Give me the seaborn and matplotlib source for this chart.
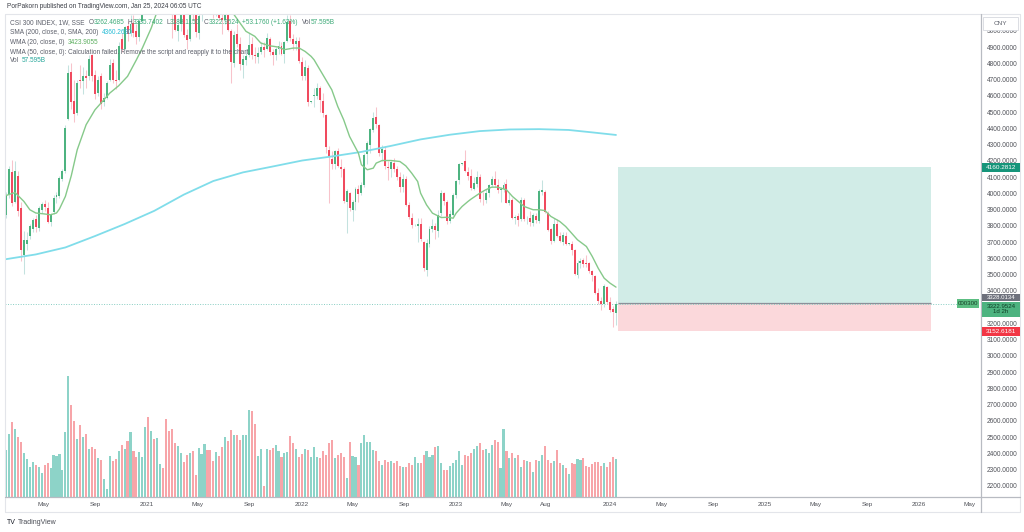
import numpy as np
import pandas as pd
import matplotlib
matplotlib.use("Agg")
import matplotlib.pyplot as plt
import matplotlib.dates as mdates
from matplotlib.patches import Rectangle
from matplotlib.lines import Line2D
import seaborn as sns

# ---------------------------------------------------------------- data
first_bar = "2020-02-03"          # weekly bars, 207 of them

open_ = [
    # 2020
    3870, 3990, 4130, 3950, 4110, 3910, 3620, 3690, 3740, 3780,
    3840, 3790, 3900, 3935, 3912, 3822, 3885, 3978, 3985, 4090,
    4140, 4460, 4745, 4570, 4495, 4700, 4690, 4720, 4720, 4850,
    4730, 4620, 4720, 4560, 4590, 4700, 4800, 4700, 4700, 4950,
    4890, 5030, 4990, 5050, 5000, 4960, 5060,
    # 2021
    5212, 5500, 5460, 5575, 5340, 5490, 5850, 5750, 5330, 5180,
    5140, 5000, 5040, 5110, 4975, 4950, 5135, 5100, 4990, 5100,
    5150, 5320, 5280, 5220, 5100, 5240, 5080, 5070, 5120, 5000,
    4800, 4980, 4920, 4790, 4820, 4850, 4920, 4850, 4840, 4870,
    4900, 4890, 4950, 4870, 4850, 4890, 4910, 4860, 4940, 5060,
    4950, 4920,
    # 2022
    4940, 4810, 4720, 4770, 4563, 4600, 4600, 4650, 4570, 4480,
    4270, 4215, 4180, 4260, 4160, 4150, 3950, 4000, 3900, 3950,
    4030, 4000, 4050, 4240, 4300, 4390, 4470, 4420, 4250, 4270,
    4160, 4150, 4190, 4150, 4100, 4040, 4090, 3930, 3850, 3804,
    3800, 3810, 3700, 3530, 3690, 3780, 3800, 3770, 3880, 4000,
    3950, 3830,
    # 2023
    3870, 3990, 4080, 4181, 4200, 4130, 4110, 4030, 4060, 4100,
    3960, 3960, 4000, 4050, 4090, 4050, 4020, 4030, 4060, 3940,
    3960, 3850, 3860, 3840, 3960, 3840, 3850, 3820, 3860, 3830,
    4010, 4010, 3880, 3780, 3710, 3810, 3740, 3700, 3740, 3690,
    3690, 3650, 3500, 3570, 3590, 3570, 3570, 3520, 3490, 3390,
    3340, 3320,
    # 2024
    3425, 3330, 3290, 3262.4685,
]
high = [
    4010, 4170, 4205, 4203, 4140, 3950, 3770, 3760, 3810, 3850,
    3870, 3920, 3950, 3960, 3945, 3880, 3990, 4010, 4105, 4150,
    4420, 4790, 4800, 4700, 4700, 4790, 4780, 4760, 4850, 4860,
    4760, 4720, 4740, 4620, 4690, 4830, 4830, 4760, 4930, 4990,
    5030, 5060, 5100, 5100, 5040, 5080, 5220,
    5520, 5580, 5620, 5640, 5500, 5830, 5930, 5760, 5480, 5230,
    5230, 5080, 5150, 5140, 5010, 5140, 5160, 5110, 5110, 5170,
    5340, 5350, 5300, 5230, 5250, 5250, 5130, 5150, 5160, 5010,
    5000, 5040, 4960, 4850, 4890, 4990, 4960, 4900, 4900, 4930,
    4930, 4990, 4960, 4890, 4900, 4940, 4930, 4940, 5100, 5100,
    4980, 4960,
    4960, 4840, 4820, 4790, 4570, 4650, 4680, 4660, 4620, 4490,
    4290, 4260, 4270, 4280, 4210, 4160, 4030, 4010, 3960, 4040,
    4050, 4070, 4250, 4320, 4400, 4500, 4530, 4430, 4300, 4290,
    4200, 4200, 4220, 4170, 4130, 4120, 4110, 3950, 3880, 3812,
    3850, 3850, 3710, 3720, 3800, 3840, 3820, 3900, 4020, 4010,
    3960, 3900,
    4000, 4080, 4190, 4188, 4270, 4160, 4150, 4100, 4140, 4120,
    4010, 4030, 4060, 4110, 4140, 4090, 4040, 4070, 4090, 4000,
    3970, 3870, 3880, 3980, 3970, 3860, 3890, 3880, 3880, 4030,
    4080, 4020, 3890, 3790, 3850, 3840, 3760, 3760, 3760, 3697,
    3710, 3660, 3590, 3600, 3600, 3620, 3580, 3530, 3500, 3420,
    3360, 3440,
    3430, 3360, 3310, 3335.7402,
]
low = [
    3850, 3975, 3925, 3940, 3860, 3585, 3503, 3650, 3720, 3760,
    3760, 3770, 3880, 3890, 3818, 3800, 3875, 3940, 3975, 4075,
    4125, 4450, 4520, 4440, 4480, 4650, 4610, 4650, 4700, 4690,
    4580, 4600, 4520, 4540, 4580, 4690, 4680, 4640, 4690, 4870,
    4880, 4940, 4970, 4960, 4920, 4940, 5050,
    5200, 5380, 5420, 5330, 5300, 5480, 5720, 5320, 5210, 4954,
    5000, 4940, 5000, 4960, 4890, 4940, 5070, 4960, 4950, 5060,
    5140, 5230, 5200, 5080, 5090, 5070, 4980, 5040, 5000, 4680,
    4780, 4900, 4760, 4710, 4790, 4840, 4830, 4800, 4800, 4860,
    4840, 4880, 4850, 4790, 4820, 4860, 4850, 4800, 4930, 4940,
    4880, 4880,
    4800, 4700, 4700, 4540, 4556, 4530, 4580, 4500, 4470, 4250,
    3942, 4150, 4150, 4160, 4100, 3940, 3757, 3890, 3830, 3900,
    3950, 3990, 4040, 4180, 4250, 4380, 4400, 4230, 4200, 4150,
    4080, 4100, 4130, 4080, 4010, 4010, 3920, 3840, 3790, 3798,
    3700, 3710, 3520, 3495, 3670, 3760, 3720, 3730, 3860, 3930,
    3810, 3820,
    3860, 3970, 4060, 4176, 4130, 4080, 4020, 4020, 4040, 3950,
    3930, 3940, 3980, 4040, 4040, 4000, 3950, 4010, 3940, 3930,
    3840, 3810, 3800, 3830, 3830, 3810, 3800, 3800, 3820, 3820,
    3990, 3880, 3770, 3690, 3700, 3730, 3700, 3680, 3680, 3684,
    3620, 3500, 3480, 3540, 3550, 3550, 3510, 3460, 3380, 3320,
    3280, 3300,
    3320, 3270, 3180, 3188.1150,
]
close = [
    3985, 4149, 3940, 4139, 3895, 3653, 3711, 3713, 3797, 3839,
    3796, 3913, 3937, 3915, 3824, 3867, 3970, 3990, 4098, 4138,
    4404, 4740, 4560, 4490, 4680, 4690, 4720, 4713, 4830, 4720,
    4610, 4700, 4550, 4587, 4680, 4793, 4700, 4695, 4909, 4890,
    5024, 4980, 5045, 4990, 4960, 5060, 5211,
    5495, 5458, 5570, 5351, 5483, 5808, 5779, 5336, 5262, 5135,
    5007, 5038, 5113, 4977, 4945, 5135, 5123, 4996, 5090, 5143,
    5321, 5282, 5224, 5102, 5239, 5082, 5068, 5120, 5007, 4811,
    4978, 4923, 4797, 4827, 4846, 4915, 4855, 4849, 4866, 4900,
    4885, 4955, 4872, 4851, 4888, 4910, 4860, 4932, 5055, 4954,
    4921, 4940,
    4818, 4726, 4779, 4563, 4565, 4602, 4651, 4575, 4497, 4285,
    4222, 4182, 4262, 4167, 4150, 3954, 4016, 3908, 3949, 4027,
    3997, 4051, 4239, 4309, 4394, 4466, 4428, 4247, 4272, 4170,
    4155, 4191, 4153, 4103, 4043, 4092, 3932, 3856, 3804, 3806,
    3810, 3718, 3541, 3694, 3784, 3801, 3775, 3870, 4002, 3954,
    3828, 3872,
    3991, 4074, 4181, 4183, 4141, 4107, 4034, 4062, 4100, 3967,
    3958, 4001, 4051, 4091, 4053, 4022, 4029, 4054, 3944, 3963,
    3850, 3857, 3837, 3963, 3844, 3842, 3825, 3865, 3837, 4015,
    4022, 3884, 3777, 3709, 3815, 3740, 3708, 3746, 3690, 3692,
    3652, 3505, 3573, 3584, 3569, 3568, 3525, 3497, 3388, 3341,
    3319, 3431,
    3330, 3286, 3269.78, 3322.9524,
]
volume_b = [
    70.7, 94.9, 113.1, 102.0, 90.9, 82.8, 66.7, 57.6, 45.5, 52.5,
    48.0, 44.4, 36.4, 48.5, 50.5, 43.4, 62.6, 62.1, 64.1, 40.4,
    97.0, 181.8, 138.4, 114.6, 87.4, 108.6, 90.9, 94.4, 71.7, 75.8,
    71.7, 58.6, 55.0, 26.8, 11.6, 61.1, 54.0, 57.1, 68.7, 78.8,
    72.2, 83.8, 98.0, 68.7, 60.6, 67.7, 60.1, 105.5, 119.7, 99.5,
    87.9, 88.9, 50.0, 43.4, 117.7, 98.5, 102.0, 81.8, 76.3, 66.7,
    52.5, 62.6, 65.7, 69.2, 32.8, 73.7, 64.6, 79.8, 70.7, 70.2,
    54.5, 68.2, 61.6, 74.7, 90.9, 84.8, 101.0, 92.9, 92.9, 85.9,
    92.9, 92.9, 131.3, 128.8, 110.1, 61.1, 72.7, 17.2, 72.7, 70.7,
    73.7, 77.8, 68.7, 59.6, 66.2, 67.7, 91.9, 81.3, 71.7, 60.6,
    64.0, 72.7, 70.2, 59.6, 75.8, 59.6, 58.1, 69.2, 62.6, 81.8,
    85.3, 59.1, 62.6, 66.7, 59.6, 28.3, 82.8, 61.6, 59.6, 47.5,
    81.8, 92.9, 82.8, 82.8, 70.7, 69.7, 54.5, 47.5, 55.6, 53.0,
    54.0, 51.5, 53.5, 46.5, 44.9, 44.9, 50.5, 47.5, 60.6, 50.5,
    51.0, 63.1, 69.2, 59.6, 62.6, 74.7, 76.8, 51.0, 40.9, 40.9,
    46.0, 51.0, 55.6, 68.7, 48.5, 63.1, 61.1, 66.2, 72.2, 76.3,
    81.8, 70.0, 72.2, 66.2, 77.8, 85.9, 83.3, 43.4, 102.5, 68.7,
    59.1, 66.2, 59.1, 63.1, 44.4, 55.6, 54.0, 53.0, 37.4, 55.6,
    54.5, 63.1, 77.3, 55.6, 51.5, 54.0, 70.7, 50.5, 48.0, 43.9,
    34.3, 51.5, 49.5, 56.6, 55.0, 58.6, 47.0, 45.5, 49.0, 53.0,
    52.5, 47.0, 50.5, 45.5, 52.0, 59.6, 57.595,
]

# SMA(200) at some bars (bar index, value)
sma_bar = [0, 10, 20, 30, 40, 50, 60, 70, 80, 90, 100, 110, 120, 130,
           140, 150, 160, 170, 180, 190, 198, 206]
sma_val = [3596, 3625, 3668, 3738, 3812, 3893, 3993, 4077, 4130, 4166,
           4203, 4228, 4256, 4293, 4333, 4362, 4384, 4394, 4396, 4391,
           4376, 4360.268]

# WMA(20) (bar index, value)
wma_bar = [0, 3, 6, 8, 10, 13, 15, 17, 18, 20, 22, 24, 27, 30, 32, 35,
           38, 41, 44, 46, 49, 51, 54, 57, 60, 63, 66, 69, 72, 75, 77,
           79, 81, 84, 86, 89, 92, 94, 97, 99, 101, 103, 104, 110, 112,
           114, 116, 119, 120, 122, 124, 125, 127, 130, 133, 135, 137,
           139, 140, 142, 144, 147, 149, 151, 152, 154, 156, 157, 160,
           162, 164, 166, 169, 171, 173, 175, 178, 180, 182, 184, 187,
           189, 191, 193, 196, 198, 200, 202, 204, 206]
wma_val = [3988, 4006, 3951, 3900, 3880, 3874, 3869, 3880, 3905, 3982,
           4110, 4269, 4423, 4515, 4556, 4618, 4663, 4721, 4823, 4895,
           5018, 5120, 5350, 5420, 5290, 5180, 5140, 5180, 5200, 5150,
           5100, 5049, 4998, 4967, 4926, 4909, 4901, 4885, 4895, 4895,
           4874, 4844, 4823, 4638, 4536, 4454, 4351, 4248, 4177, 4146,
           4156, 4187, 4203, 4203, 4197, 4170, 4125, 4074, 4002, 3930,
           3879, 3852, 3854, 3848, 3879, 3920, 3951, 3965, 4002, 4023,
           4039, 4039, 4023, 3982, 3951, 3920, 3900, 3900, 3895, 3859,
           3828, 3797, 3756, 3715, 3674, 3612, 3540, 3479, 3448, 3423.9055]

price_ticks = list(range(2200, 5001, 100))
hidden_ticks = [3300]   # covered by the last-price label in the reference
date_ticks = ["2020-05-01", "2020-09-01", "2021-01-01", "2021-05-01",
              "2021-09-01", "2022-01-01", "2022-05-01", "2022-09-01",
              "2023-01-01", "2023-05-01", "2023-08-01", "2024-01-01",
              "2024-05-01", "2024-09-01", "2025-01-01", "2025-05-01",
              "2025-09-01", "2026-01-01", "2026-05-01"]
date_labels = ["May", "Sep", "2021", "May", "Sep", "2022", "May", "Sep",
               "2023", "May", "Aug", "2024", "May", "Sep", "2025", "May",
               "Sep", "2026", "May"]

# long-position drawing tool
pos_span = ["2024-01-19", "2026-01-28"]
pos_target, pos_entry, pos_stop = 4160.2812, 3328.0134, 3152.6181
last_price = 3322.9524

# ---------------------------------------------------------------- style
sns.set_theme(style="white")
plt.rcParams["font.family"] = ["Liberation Sans", "DejaVu Sans"]

UP, DOWN = "#4DB380", "#F04A5E"
UP_WICK, DOWN_WICK = "#C4E2DF", "#F8C3CB"
VOL_UP, VOL_DOWN = "#8DD3C8", "#F7A5A9"
GREY_TXT = "#5D606B"

W, H = 1024, 532
fig = plt.figure(figsize=(W / 100, H / 100), dpi=100)
fig.patch.set_facecolor("white")

PL, PR, PT, PB = 5, 981, 14, 497
rect = [PL / W, 1 - PB / H, (PR - PL) / W, (PB - PT) / H]
axv = fig.add_axes(rect)
ax = fig.add_axes(rect)
ax.patch.set_alpha(0)

dates = pd.date_range(first_bar, periods=len(close), freq="7D")
x = mdates.date2num(dates)

anchor = mdates.date2num(pd.Timestamp("2021-01-01"))
px_per_day = 0.4229
x_lo = anchor + (PL - 147) / px_per_day
x_hi = anchor + (PR - 147) / px_per_day
y_lo, y_hi = 2132.3, 5104.6

o = np.array(open_, float)
c = np.array(close, float)
h = np.array(high, float)
l = np.array(low, float)
up = c >= o

# volume (own scale, behind price)
axv.bar(x, volume_b, width=5.0, color=np.where(up, VOL_UP, VOL_DOWN),
        linewidth=0)
axv.set_xlim(x_lo, x_hi)
axv.set_ylim(0, 726)
axv.axis("off")

# position tool
p0, p1 = mdates.date2num(pd.to_datetime(pos_span))
ax.fill_between([p0, p1], pos_entry, pos_target, color="#D1ECE7",
                linewidth=0, zorder=1)
ax.fill_between([p0, p1], pos_stop, pos_entry, color="#FBD8DB",
                linewidth=0, zorder=1)
ax.hlines(pos_entry, p0, p1, color="#8C8F99", linewidth=0.9, zorder=2)

# last price dotted line
ax.axhline(last_price, xmin=0, xmax=(957 - PL) / (PR - PL), color="#86CDC2",
           linewidth=0.7, linestyle=(0, (1, 1.6)), zorder=2)

# candles
ax.vlines(x, l, h, colors=np.where(up, UP_WICK, DOWN_WICK), linewidth=0.75,
          zorder=3)
ax.bar(x, np.maximum(np.abs(c - o), 5), bottom=np.minimum(o, c), width=4.6,
       color=np.where(up, UP, DOWN), linewidth=0, zorder=4)

# moving averages
sma_df = pd.DataFrame({"t": x[sma_bar], "v": sma_val})
wma_df = pd.DataFrame({"t": x[wma_bar], "v": wma_val})
sns.lineplot(data=sma_df, x="t", y="v", ax=ax, color="#80DDEA",
             linewidth=1.3, sort=False, zorder=5)
sns.lineplot(data=wma_df, x="t", y="v", ax=ax, color="#86C98A",
             linewidth=1.0, sort=False, zorder=5)
ax.set_xlabel("")
ax.set_ylabel("")

ax.set_xlim(x_lo, x_hi)
ax.set_ylim(y_lo, y_hi)
ax.grid(False)
for s in ax.spines.values():
    s.set_visible(False)
ax.yaxis.tick_right()
ax.set_yticks(price_ticks)
ax.set_yticklabels(["" if v in hidden_ticks else f"{v:.4f}"
                    for v in price_ticks])
ax.tick_params(axis="y", length=0, pad=4.0, labelsize=4.7,
               labelcolor="#505259")
ax.set_xticks(mdates.date2num(pd.to_datetime(date_ticks)))
ax.set_xticklabels(date_labels)
ax.tick_params(axis="x", length=0, pad=3.6, labelsize=4.6,
               labelcolor="#505259")


# ---------------------------------------------------------------- frame
def fline(x0, y0, x1, y1, color, lw=0.8):
    fig.add_artist(Line2D([x0 / W, x1 / W], [1 - y0 / H, 1 - y1 / H],
                          transform=fig.transFigure, color=color,
                          linewidth=lw, zorder=1))


fline(PL, PT, 1020, PT, "#E3E5EA")
fline(PL, PT, PL, 512, "#E3E5EA")
fline(1020, PT, 1020, 512, "#E3E5EA")
fline(PL, 512, 1020, 512, "#E3E5EA")
fline(PR, PT, PR, 512, "#B8BBC2", 0.9)
fline(PL, PB, 1020, PB, "#B8BBC2", 0.9)

renderer = fig.canvas.get_renderer()


def seq_text(x_px, y_px, parts, size=4.7):
    xx = x_px
    for s, col, gap in parts:
        t = fig.text(xx / W, 1 - y_px / H, s, color=col, fontsize=size,
                     ha="left", va="center", zorder=20)
        bb = t.get_window_extent(renderer=renderer)
        xx = bb.x1 + gap


GREEN_V = "#3DAA78"
seq_text(7, 7, [("PorPakorn published on TradingView.com, Jan 25, 2024 06:05 UTC",
                 "#3A3D45", 0)])
seq_text(10, 23, [("CSI 300 INDEX, 1W, SSE", GREY_TXT, 4),
                  ("O", GREY_TXT, 0.3), ("3262.4685", GREEN_V, 3),
                  ("H", GREY_TXT, 0.3), ("3335.7402", GREEN_V, 3),
                  ("L", GREY_TXT, 0.3), ("3188.1150", GREEN_V, 3),
                  ("C", GREY_TXT, 0.3), ("3322.9524", GREEN_V, 3),
                  ("+53.1760 (+1.63%)", GREEN_V, 4),
                  ("Vol", GREY_TXT, 0.3), ("57.595B", GREEN_V, 0)])
seq_text(10, 33, [("SMA (200, close, 0, SMA, 200)", GREY_TXT, 3),
                  ("4360.2680", "#26BCD6", 0)])
seq_text(10, 42.5, [("WMA (20, close, 0)", GREY_TXT, 3),
                    ("3423.9055", "#5BAE5E", 0)])
seq_text(10, 52, [("WMA (50, close, 0): Calculation failed. Remove the script "
                   "and reapply it to the chart.", GREY_TXT, 0)])
seq_text(10, 61, [("Vol", GREY_TXT, 3), ("57.595B", "#26A69A", 0)])

# logo
seq_text(7, 522, [("TV", "#131722", 2.5), ("TradingView", "#4A4D55", 0)],
         size=5.0)


def price_px(price):
    return H - ax.transData.transform((x_lo, price))[1]


def box(x0, x1, yc, hgt, text, bg, fg, size=4.6, edge="none", weight="normal"):
    fig.add_artist(Rectangle((x0 / W, 1 - (yc + hgt / 2) / H), (x1 - x0) / W,
                             hgt / H, transform=fig.transFigure,
                             facecolor=bg, edgecolor=edge, linewidth=0.6,
                             zorder=30))
    fig.text((x0 + x1) / 2 / W, 1 - yc / H, text, color=fg, fontsize=size,
             ha="center", va="center", zorder=31, weight=weight,
             linespacing=1.15)


# price-scale labels
box(982, 1020, price_px(pos_target), 9.5, "4160.2812", "#16957A", "white")
box(982, 1020, price_px(pos_entry) - 5.0, 7.5, "3328.0134", "#6E717C", "white",
    size=4.3)
box(982, 1020, price_px(last_price) + 5.5, 15, "3322.9524\n1d 2h", "#4DB380",
    "#0F3D26", size=4.4)
box(982, 1020, price_px(pos_stop), 9, "3152.6181", "#F23645", "white")
box(957, 979, price_px(last_price), 8.5, "000300", "#5CBE82", "#153E27",
    size=4.4)
box(983, 1018, 23.5, 13, "CNY", "white", "#5D606B", size=4.6, edge="#D6D8DE")

fig.savefig("out.png", dpi=100, facecolor="white")
